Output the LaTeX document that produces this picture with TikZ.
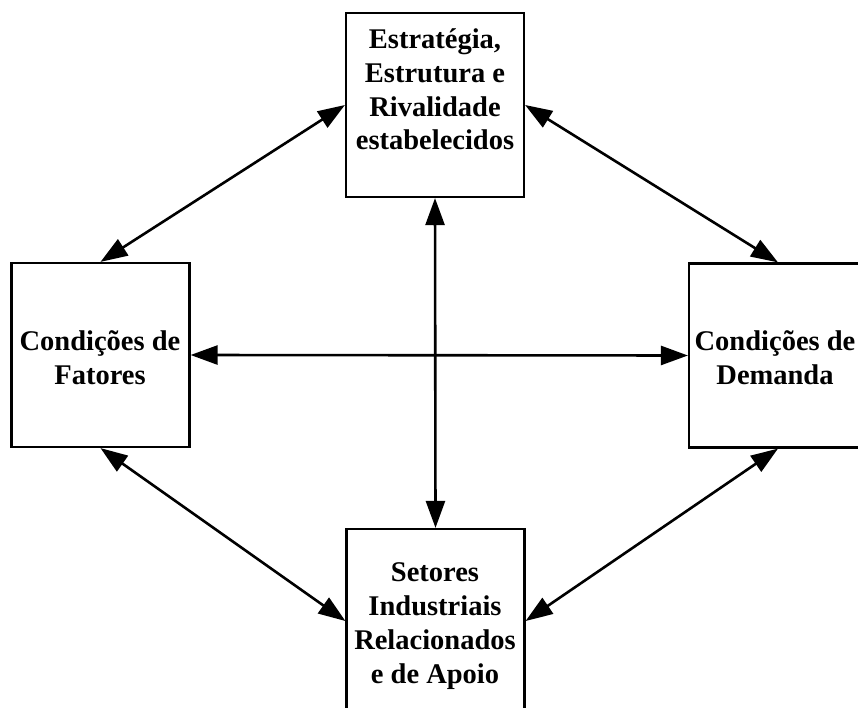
\documentclass[tikz,border=0pt]{standalone}
\usepackage{fontspec}
\setmainfont{Liberation Serif}
\usetikzlibrary{arrows.meta}
\begin{document}
\begin{tikzpicture}[x=1pt,y=-1pt,
  box/.style={draw=black,line width=2.2pt,minimum width=178pt,minimum height=184pt,inner sep=0pt},
  lbl/.style={align=center,inner sep=0pt,font=\bfseries\fontsize{28.5}{33.8}\selectfont},
  link/.style={line width=2.6pt,{Triangle[length=27pt,width=19pt]}-{Triangle[length=27pt,width=19pt]}}]
  \useasboundingbox (0,0) rectangle (858,708);
  \clip (0,0) rectangle (858,708);
  % the four boxes of the diamond
  \node[box] (top) at (435,105) {};
  \node[box] (left) at (100.5,355) {};
  \node[box] (right) at (778,355.5) {};
  \node[box] (bottom) at (435.5,621) {};
  % box texts, placed by the baseline of their last line
  \node[lbl,anchor=base] (topT) at (435,150) {Estratégia,\\Estrutura e\\Rivalidade\\estabelecidos};
  \node[lbl,anchor=base] (leftT) at (100,384) {Condições de\\Fatores};
  \node[lbl,anchor=base] (rightT) at (775,384) {Condições de\\Demanda};
  \node[lbl,anchor=base] (bottomT) at (435,683) {Setores\\Industriais\\Relacionados\\e de Apoio};
  % double-headed links
  \draw[link] (left.north) -- (top.west);
  \draw[link] (top.east) -- (right.north);
  \draw[link] (left.south) -- (bottom.west);
  \draw[link] (bottom.east) -- (right.south);
  \draw[link] (left.east) -- (right.west);
  \draw[link] (top.south) -- (bottom.north);
\end{tikzpicture}
\end{document}
